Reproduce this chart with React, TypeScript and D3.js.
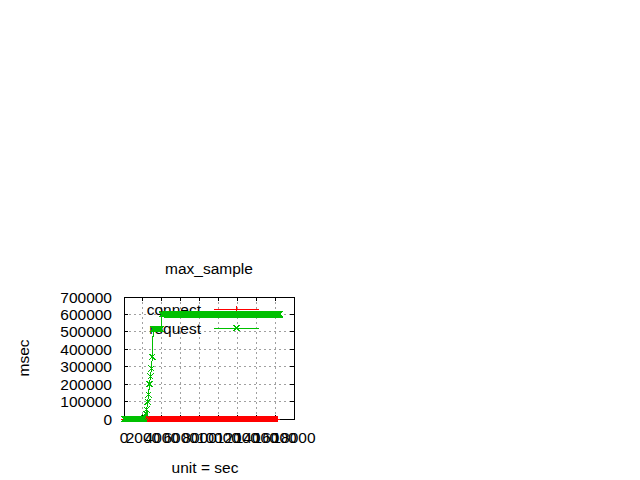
import React from "react";
import * as d3 from "d3";

// sample times (sec) shared by both series
const sampleSec = [
  0, 100, 200, 300, 400, 500, 600, 700, 800, 900, 1000, 1100, 1200, 1300, 1400,
  1500, 1600, 1700, 1800, 1900, 2000, 2100, 2200, 2300, 2400, 2500, 2600, 2700, 2800, 2900,
  3000, 3100, 3200, 3300, 3400, 3500, 3600, 3700, 3800, 3900, 4000, 4100, 4200, 4300, 4400,
  4500, 4600, 4700, 4800, 4900, 5000, 5100, 5200, 5300, 5400, 5500, 5600, 5700, 5800, 5900,
  6000, 6100, 6200, 6300, 6400, 6500, 6600, 6700, 6800, 6900, 7000, 7100, 7200, 7300, 7400,
  7500, 7600, 7700, 7800, 7900, 8000, 8100, 8200, 8300, 8400, 8500, 8600, 8700, 8800, 8900,
  9000, 9100, 9200, 9300, 9400, 9500, 9600, 9700, 9800, 9900, 10000, 10100, 10200, 10300, 10400,
  10500, 10600, 10700, 10800, 10900, 11000, 11100, 11200, 11300, 11400, 11500, 11600, 11700, 11800, 11900,
  12000, 12100, 12200, 12300, 12400, 12500, 12600, 12700, 12800, 12900, 13000, 13100, 13200, 13300, 13400,
  13500, 13600, 13700, 13800, 13900, 14000, 14100, 14200, 14300, 14400, 14500, 14600, 14700, 14800, 14900,
  15000, 15100, 15200, 15300, 15400, 15500, 15600, 15700, 15800, 15900, 16000, 16100, 16200, 16300, 16400,
  16500,
];

// connect max (msec), stops at 16200 sec
const connectMsec = [
  0, 0, 0, 0, 0, 0, 0, 0, 0, 0, 0, 0, 0, 0, 0, 0, 0, 0, 0, 0,
  0, 0, 0, 0, 0, 0, 0, 0, 0, 0, 0, 0, 0, 0, 0, 0, 0, 0, 0, 0,
  0, 0, 0, 0, 0, 0, 0, 0, 0, 0, 0, 0, 0, 0, 0, 0, 0, 0, 0, 0,
  0, 0, 0, 0, 0, 0, 0, 0, 0, 0, 0, 0, 0, 0, 0, 0, 0, 0, 0, 0,
  0, 0, 0, 0, 0, 0, 0, 0, 0, 0, 0, 0, 0, 0, 0, 0, 0, 0, 0, 0,
  0, 0, 0, 0, 0, 0, 0, 0, 0, 0, 0, 0, 0, 0, 0, 0, 0, 0, 0, 0,
  0, 0, 0, 0, 0, 0, 0, 0, 0, 0, 0, 0, 0, 0, 0, 0, 0, 0, 0, 0,
  0, 0, 0, 0, 0, 0, 0, 0, 0, 0, 0, 0, 0, 0, 0, 0, 0, 0, 0, 0,
  0, 0, 0,
];

// request max (msec)
const requestMsec = [
  0, 0, 0, 0, 0, 0, 0, 0, 0, 0, 0, 0, 0, 0, 0, 0, 0, 0, 0, 0, 0,
  4000, 13000, 30000, 55000, 99000, 140000, 200000, 245000, 290000, 357000,
  516000, 516000, 516000, 516000, 516000, 516000, 516000, 516000, 516000,
  600000, 600000, 600000, 600000, 600000, 600000, 600000, 600000, 600000, 600000, 600000, 600000, 600000, 600000,
  600000, 600000, 600000, 600000, 600000, 600000, 600000, 600000, 600000, 600000, 600000, 600000, 600000, 600000,
  600000, 600000, 600000, 600000, 600000, 600000, 600000, 600000, 600000, 600000, 600000, 600000, 600000, 600000,
  600000, 600000, 600000, 600000, 600000, 600000, 600000, 600000, 600000, 600000, 600000, 600000, 600000, 600000,
  600000, 600000, 600000, 600000, 600000, 600000, 600000, 600000, 600000, 600000, 600000, 600000, 600000, 600000,
  600000, 600000, 600000, 600000, 600000, 600000, 600000, 600000, 600000, 600000, 600000, 600000, 600000, 600000,
  600000, 600000, 600000, 600000, 600000, 600000, 600000, 600000, 600000, 600000, 600000, 600000, 600000, 600000,
  600000, 600000, 600000, 600000, 600000, 600000, 600000, 600000, 600000, 600000, 600000, 600000, 600000, 600000,
  600000, 600000, 600000, 600000, 600000, 600000, 600000, 600000, 600000, 600000, 600000, 600000, 600000, 600000,
];

const xTicks = [0, 2000, 4000, 6000, 8000, 10000, 12000, 14000, 16000, 18000];
const yTicks = [0, 100000, 200000, 300000, 400000, 500000, 600000, 700000];

const seriesNames = ["connect", "request"];
const seriesColors = ["#ff0000", "#00c000"];

const FONT = "'Liberation Sans', Arial, sans-serif";
const FS = 15.5;

const plusPath = "M-3,0H3M0,-3V3";
const crossPath = "M-3,-3L3,3M-3,3L3,-3";

export default function App() {
  const margin = { left: 124, right: 294, top: 297, bottom: 419 };
  const x = d3.scaleLinear().domain([0, 18000]).range([margin.left, margin.right]);
  const y = d3.scaleLinear().domain([0, 700000]).range([margin.bottom, margin.top]);
  const tick = 4;

  const series = [connectMsec, requestMsec].map((vals) =>
    vals.map((v, i) => ({ t: sampleSec[i], v }))
  );
  const line = d3
    .line<{ t: number; v: number }>()
    .x((d) => x(d.t))
    .y((d) => y(d.v));
  const markers = [plusPath, crossPath];

  const legendX0 = 214;
  const legendX1 = 259;
  const legendY = [309, 328];

  return (
    <svg
      width={640}
      height={480}
      style={{ position: "absolute", left: 0, top: 0, background: "#fff" }}
      fontFamily={FONT}
      fontSize={FS}
      shapeRendering="crispEdges"
    >
      {/* grid */}
      <g stroke="#a0a0a0" strokeDasharray="2,3">
        {xTicks.slice(1, -1).map((t) => (
          <line key={t} x1={x(t)} x2={x(t)} y1={margin.bottom} y2={margin.top} />
        ))}
        {yTicks.slice(1, -1).map((t) => (
          <line key={t} x1={margin.left} x2={margin.right} y1={y(t)} y2={y(t)} />
        ))}
      </g>

      {/* border + ticks */}
      <g stroke="#000">
        <rect
          x={margin.left}
          y={margin.top}
          width={margin.right - margin.left}
          height={margin.bottom - margin.top}
          fill="none"
        />
        {xTicks.map((t) => (
          <g key={t}>
            <line x1={x(t)} x2={x(t)} y1={margin.bottom} y2={margin.bottom - tick} />
            <line x1={x(t)} x2={x(t)} y1={margin.top} y2={margin.top + tick} />
          </g>
        ))}
        {yTicks.map((t) => (
          <g key={t}>
            <line x1={margin.left} x2={margin.left + tick} y1={y(t)} y2={y(t)} />
            <line x1={margin.right} x2={margin.right - tick} y1={y(t)} y2={y(t)} />
          </g>
        ))}
      </g>

      {/* tick labels */}
      <g fill="#000">
        {xTicks.map((t) => (
          <text key={t} x={x(t)} y={443} textAnchor="middle">
            {t}
          </text>
        ))}
        {yTicks.map((t) => (
          <text key={t} x={112} y={y(t) + 5.5} textAnchor="end">
            {t}
          </text>
        ))}
      </g>

      {/* titles */}
      <text x={209} y={274} textAnchor="middle">
        max_sample
      </text>
      <text x={205} y={473} textAnchor="middle">
        unit = sec
      </text>
      <text transform="translate(29,358) rotate(-90)" textAnchor="middle">
        msec
      </text>

      {/* key + curves, in gnuplot's order */}
      {seriesNames.map((name, i) => (
        <g key={name}>
          <text x={201} y={legendY[i] + 5.5} textAnchor="end">
            {name}
          </text>
          <g stroke={seriesColors[i]} fill="none">
            <line x1={legendX0} x2={legendX1} y1={legendY[i]} y2={legendY[i]} />
            <path d={markers[i]} transform={`translate(${(legendX0 + legendX1) / 2},${legendY[i]})`} />
          </g>
        </g>
      ))}
      {series.map((pts, i) => (
        <g key={i} stroke={seriesColors[i]} fill="none">
          <path d={line(pts) || ""} />
          {pts.map((p, j) => (
            <path key={j} d={markers[i]} transform={`translate(${x(p.t)},${y(p.v)})`} />
          ))}
        </g>
      ))}
    </svg>
  );
}
